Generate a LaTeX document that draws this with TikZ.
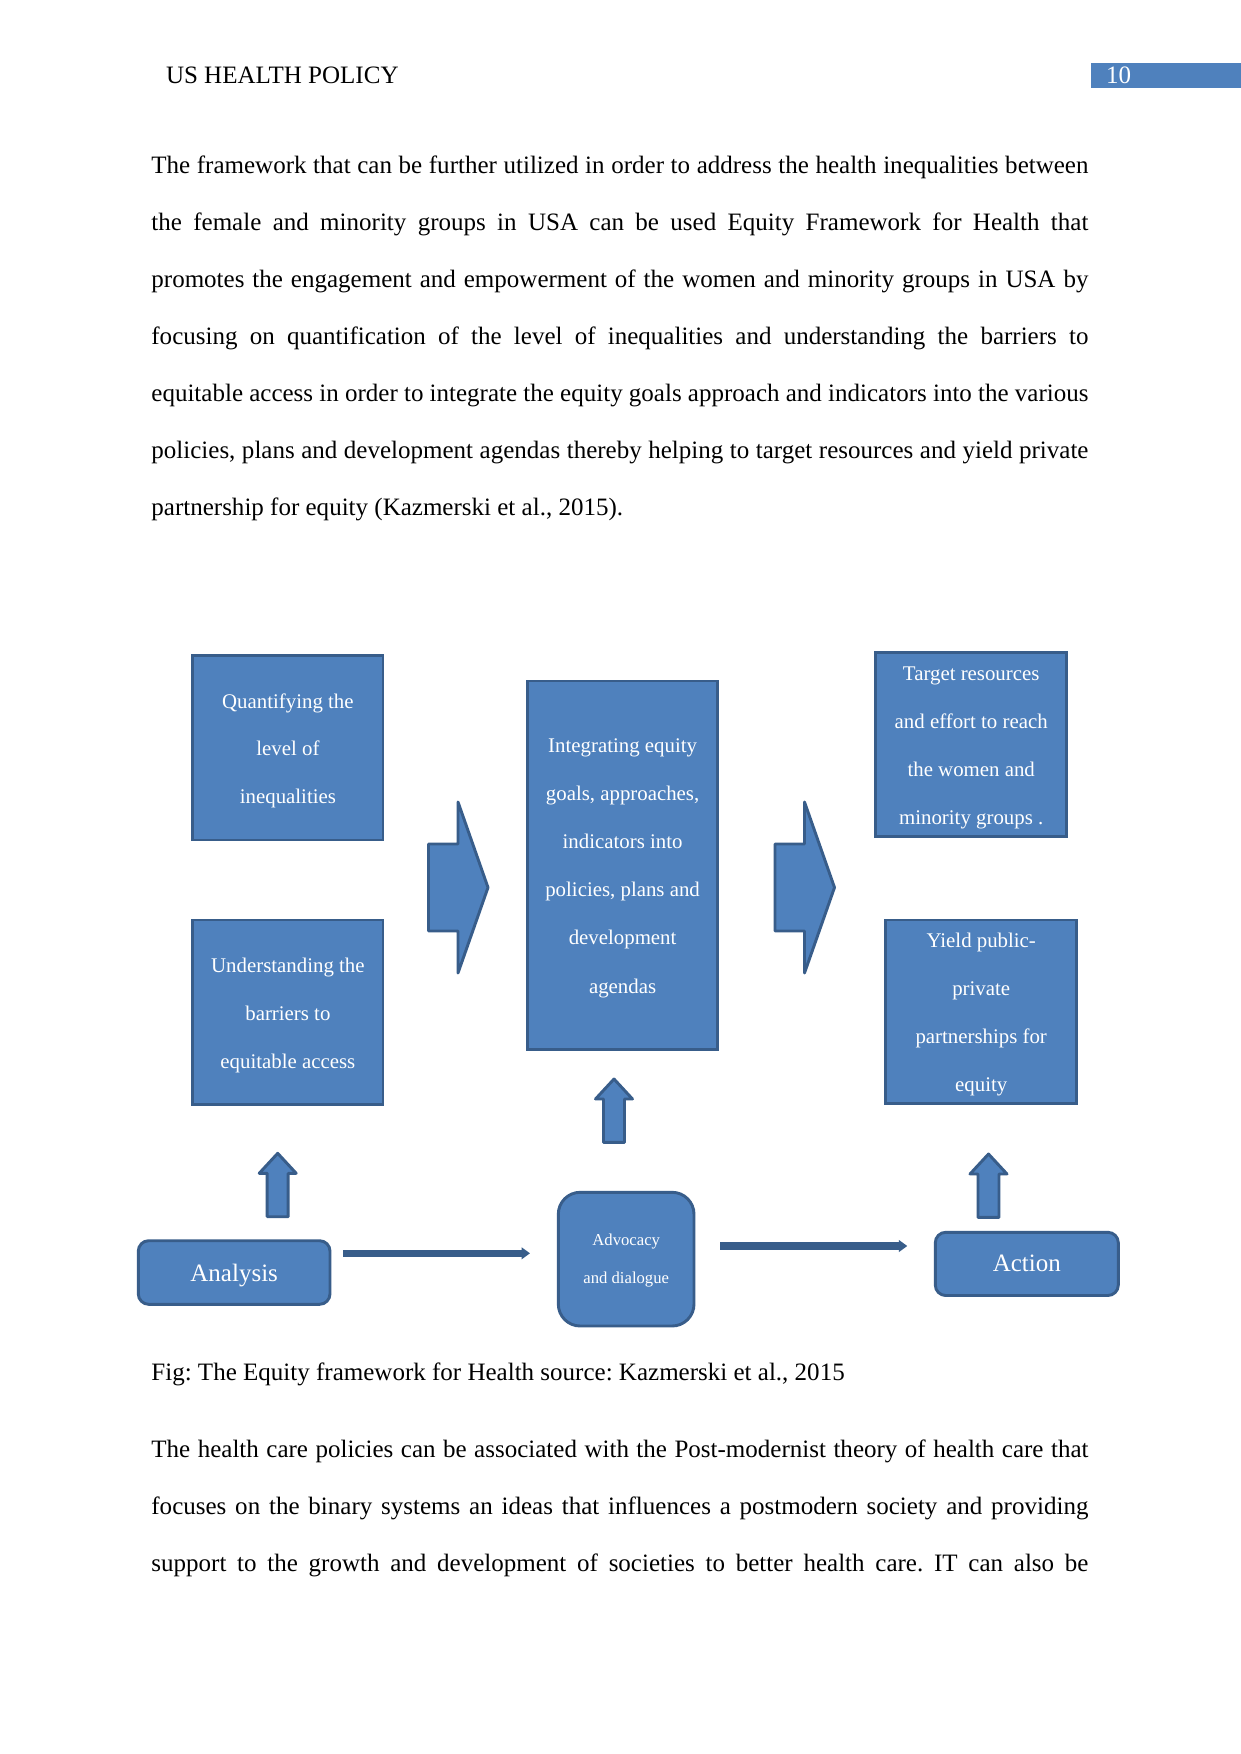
\documentclass[tikz,border=0pt]{standalone}
\usepackage{fontspec}
\setmainfont{Liberation Serif}
\usetikzlibrary{fit,arrows.meta}
\definecolor{ofill}{HTML}{4F81BD}
\definecolor{oline}{HTML}{385D8A}
\frenchspacing
\newcommand\jline[1]{\makebox[449.5pt][s]{#1}}
\newcommand\mychev[3]{% name, left x, centre y
  \coordinate (#1) at (#2,#3);
  \draw[blockarrow] (#2,#3-43.5) -- (#2+29.5,#3-43.5) -- (#2+29.5,#3-85.5) -- (#2+59.5,#3) -- (#2+29.5,#3+85.5) -- (#2+29.5,#3+43.5) -- (#2,#3+43.5) -- cycle;}
\newcommand\myup[3]{% name, tip x, tip y
  \coordinate (#1) at (#2,#3);
  \draw[blockarrow] (#2-10.5,#3+63.4) -- (#2-10.5,#3+20) -- (#2-18.5,#3+20) -- (#2,#3) -- (#2+18.5,#3+20) -- (#2+10.5,#3+20) -- (#2+10.5,#3+63.4) -- cycle;}
% name prefix, centre x, first baseline, line step, list of lines
\newcommand\boxlines[5]{%
  \foreach \t [count=\i] in {#5}
    \node[lbl] (#1-\i) at (#2,{#3+(\i-1)*#4}) {\t};}
\tikzset{
  body/.style={anchor=base west, inner sep=0pt, font=\fontsize{12}{14}\selectfont},
  box/.style={draw=oline, fill=ofill, line width=1.4pt, inner sep=0pt},
  rbox/.style={box, rounded corners=5pt},
  lbl/.style={anchor=base, inner sep=0pt, text=white, font=\fontsize{10}{12}\selectfont},
  blockarrow/.style={draw=oline, fill=ofill, line width=1.4pt, line join=round},
  conn/.style={draw=oline, line width=3.4pt, -{Triangle[length=4pt,width=5.5pt]}}
}
\begin{document}
\begin{tikzpicture}[x=0.4797pt,y=-0.4797pt]
\useasboundingbox[fill=white] (0,0) rectangle (1241,1754);
% header
\node[body] (hdr) at (165.6,83.3) {US HEALTH POLICY};
\fill[ofill] (1091,62.7) rectangle (1241,88.4);
\node[body, text=white] (pg) at (1105.6,83.3) {10};
% paragraph 1
\node[body] (p1) at (151,173.3) {\jline{The framework that can be further utilized in order to address the health inequalities between}};
\node[body] (p2) at (151,230.4) {\jline{the female and minority groups in USA can be used Equity Framework for Health that}};
\node[body] (p3) at (151,287.5) {\jline{promotes the engagement and empowerment of the women and minority groups in USA by}};
\node[body] (p4) at (151,344.6) {\jline{focusing on quantification of the level of inequalities and understanding the barriers to}};
\node[body] (p5) at (151,401.7) {\jline{equitable access in order to integrate the equity goals approach and indicators into the various}};
\node[body] (p6) at (151,458.8) {\jline{policies, plans and development agendas thereby helping to target resources and yield private}};
\node[body] (p7) at (151,515.9) {partnership for equity (Kazmerski et al., 2015).};
% boxes
\node[box, fit={(192.7,655.7) (383,840)}] (q) {};
\node[box, fit={(192.7,920) (383,1104.5)}] (u) {};
\node[box, fit={(527.5,681) (717.7,1049.6)}] (int) {};
\node[box, fit={(875.7,652.3) (1066.7,836.7)}] (tgt) {};
\node[box, fit={(885.7,920) (1076.7,1103.5)}] (yld) {};
\boxlines{qt}{287.9}{708}{47.5}{Quantifying the, level of, inequalities}
\boxlines{ut}{287.9}{972}{48}{Understanding the, barriers to, equitable access}
\boxlines{it}{622.6}{752}{48.2}{Integrating equity, {goals, approaches,}, indicators into, {policies, plans and}, development, agendas}
\boxlines{tt}{971.2}{680}{48}{Target resources, and effort to reach, the women and, minority groups .}
\boxlines{yt}{981.2}{947}{48.3}{Yield public-, private, partnerships for, equity}
% block arrows
\mychev{ch1}{428.5}{887.5}
\mychev{ch2}{775}{887.5}
\myup{up1}{277.7}{1153.3}
\myup{up2}{614}{1079}
\myup{up3}{988.5}{1154}
% bottom row
\node[rbox, fit={(138.3,1240.7) (330,1304.3)}] (ana) {};
\node[box, rounded corners=10.5pt, fit={(558.3,1192.3) (694,1326)}] (adv) {};
\node[rbox, fit={(935.3,1232.3) (1118.3,1295.5)}] (act) {};
\node[lbl, font=\fontsize{12}{14}\selectfont] (anat) at (234.2,1281.7) {Analysis};
\node[lbl, font=\fontsize{8}{10}\selectfont] (advt1) at (626.2,1245) {Advocacy};
\node[lbl, font=\fontsize{8}{10}\selectfont] (advt2) at (626.2,1283.3) {and dialogue};
\node[lbl, font=\fontsize{12}{14}\selectfont] (actt) at (1026.8,1271.7) {Action};
\coordinate (l1a) at (343.3,1253.3);
\coordinate (l1b) at (530,1253.3);
\coordinate (l2a) at (720,1246);
\coordinate (l2b) at (907.3,1246);
\draw[conn] (l1a) -- (l1b);
\draw[conn] (l2a) -- (l2b);
% caption
\node[body] (cap) at (151,1380) {Fig: The Equity framework for Health source: Kazmerski et al., 2015};
% paragraph 2
\node[body] (q1) at (151,1457.7) {\jline{The health care policies can be associated with the Post-modernist theory of health care that}};
\node[body] (q2) at (151,1514.8) {\jline{focuses on the binary systems an ideas that influences a postmodern society and providing}};
\node[body] (q3) at (151,1571.9) {\jline{support to the growth and development of societies to better health care. IT can also be}};
\end{tikzpicture}
\end{document}
